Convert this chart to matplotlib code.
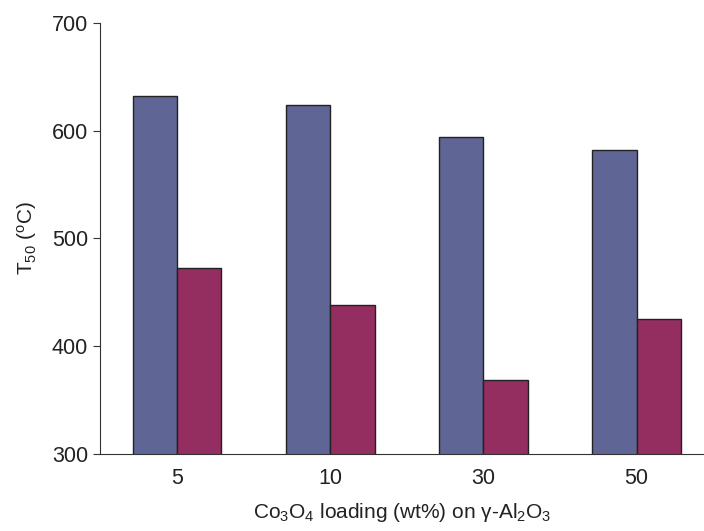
import numpy as np
import matplotlib
matplotlib.use("Agg")
import matplotlib.pyplot as plt

plt.rcParams['font.family'] = ['Liberation Sans', 'DejaVu Sans']
plt.rcParams['mathtext.fontset'] = 'custom'
plt.rcParams['mathtext.rm'] = 'Liberation Sans'
plt.rcParams['mathtext.it'] = 'Liberation Sans:italic'

# data
loadings = ['5', '10', '30', '50']
t50_blue = [632, 624, 594, 582]
t50_red = [473, 438, 369, 425]

blue = '#5f6594'
red = '#952e60'

fig = plt.figure(figsize=(7.04, 5.31), dpi=100)
ax = fig.add_axes([0.142, 0.145, 0.858, 0.812])

x = np.arange(len(loadings))
w = 0.29
ax.bar(x - w / 2, t50_blue, w, bottom=0, color=blue, edgecolor='#222222', linewidth=1.0)
ax.bar(x + w / 2, t50_red, w, bottom=0, color=red, edgecolor='#222222', linewidth=1.0)

ax.set_ylim(300, 700)
ax.set_xlim(-0.503, 3.44)
ax.set_yticks([300, 400, 500, 600, 700])
ax.set_xticks(x)
ax.set_xticklabels(loadings)

for s in ['top', 'right']:
    ax.spines[s].set_visible(False)
ax.spines['left'].set_color('#333333')
ax.spines['bottom'].set_color('#333333')
ax.tick_params(axis='y', direction='out', length=5, color='#333333', labelsize=15.5, labelcolor='#222222')
ax.tick_params(axis='x', length=0, pad=10, labelsize=15.5, labelcolor='#222222')

ax.set_ylabel(r'T$_{50}$ ($^{\mathrm{o}}$C)', fontsize=15, color='#222222', labelpad=9)
ax.set_xlabel(r'Co$_3$O$_4$ loading (wt%) on $\mathrm{\gamma}$-Al$_2$O$_3$', fontsize=15,
              color='#222222', labelpad=9)

fig.savefig('out.png', dpi=100)
